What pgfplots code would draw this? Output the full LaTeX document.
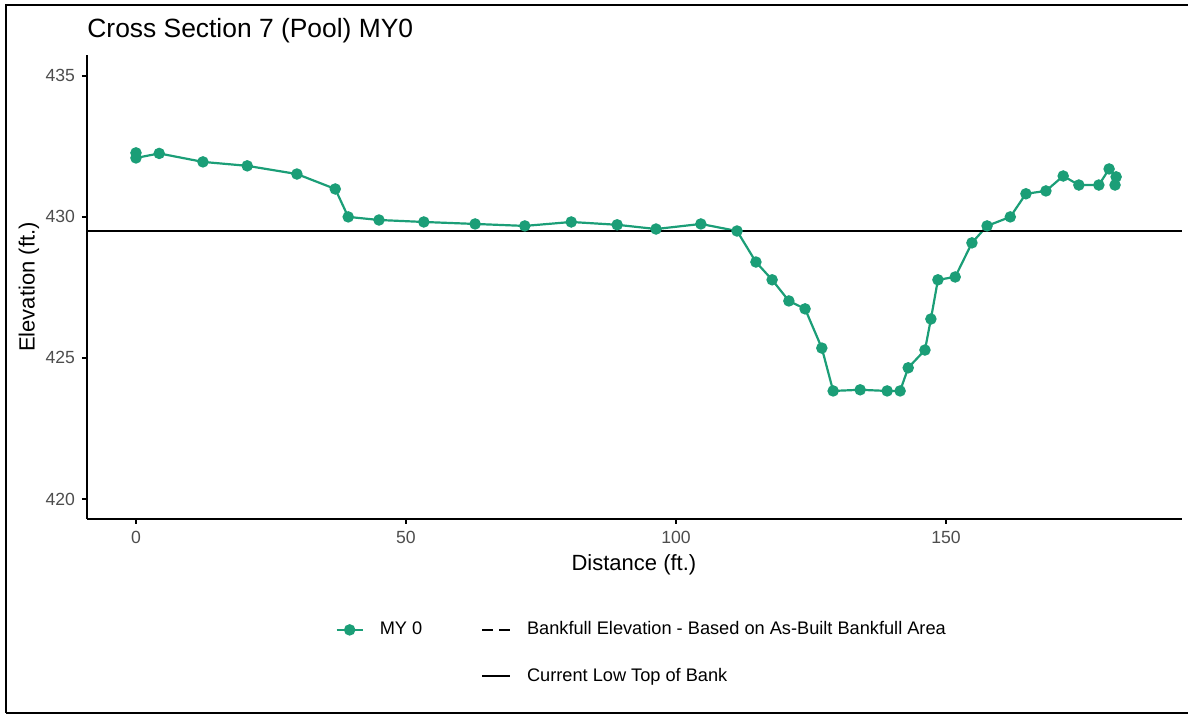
\documentclass[border=0pt]{standalone}
\usepackage{pgfplots}
\pgfplotsset{compat=1.18}
\usepackage{fontspec}
\setmainfont{Liberation Sans}
\definecolor{myg}{HTML}{1B9E77}
\definecolor{tickgrey}{HTML}{4D4D4D}
\pgfplotsset{
  legA/.style={legend image code/.code={\draw[mark repeat=2,mark phase=2,##1] plot coordinates {(0pt,0pt)(6.5pt,0pt)(13pt,0pt)};}},
  legB/.style={legend image code/.code={\draw[##1] (0pt,0pt) -- (14pt,0pt);}},
}
\begin{document}
\begin{tikzpicture}
\useasboundingbox (0,0) rectangle (594pt,357.5pt);
\draw[line width=1.3pt] (3pt,1pt) -- (3pt,355pt) -- (594pt,355pt);
\draw[line width=1.3pt] (3pt,1pt) -- (594pt,1pt);
\begin{axis}[
  at={(43.5pt,98pt)}, anchor=south west,
  scale only axis, width=547.5pt, height=232pt,
  xmin=-9.07, xmax=193.7, ymin=419.29, ymax=435.74,
  axis lines=left, axis line style={line width=0.9pt, -},
  xtick={0,50,100,150}, ytick={420,425,430,435},
  tick align=outside, major tick length=2.5pt,
  tick style={line width=0.9pt, black},
  /pgf/number format/assume math mode=true,
  ticklabel style={font=\fontsize{8.8}{10}\selectfont, text=tickgrey},
  title={Cross Section 7 (Pool) MY0},
  title style={at={(0,1)}, anchor=base west, yshift=2.5pt, inner sep=0pt, font=\fontsize{13.2}{15}\selectfont},
  xlabel={Distance (ft.)},
  xlabel style={at={(axis description cs:0.4995,-0.0992)}, anchor=center, font=\fontsize{11}{13}\selectfont},
  ylabel={Elevation (ft.)},
  ylabel style={at={(axis description cs:-0.053,0.5)}, anchor=center, font=\fontsize{11}{13}\selectfont},
  legend columns=2,
  legend style={draw=none, fill=none, at={(axis description cs:0.5075,-0.2888)}, anchor=center,
    font=\fontsize{9.1}{10}\selectfont, row sep=11pt,
    /tikz/every odd column/.append style={column sep=6pt},
    /tikz/every even column/.append style={column sep=27.5pt}},
  legend cell align=left,
]
\addplot[myg, line width=1.1pt, mark=*, mark size=2.3pt, forget plot] coordinates {
(0,432.27) (0,432.09) (4.3,432.25) (12.4,431.95) (20.6,431.81) (29.8,431.52)
(36.9,430.99) (39.3,430.00) (45.0,429.89) (53.3,429.82) (62.8,429.75) (72.0,429.68)
(80.6,429.82) (89.1,429.72) (96.3,429.57) (104.6,429.75) (111.3,429.50) (114.8,428.40)
(117.8,427.77) (120.9,427.02) (123.9,426.74) (127.0,425.35) (129.1,423.83) (134.1,423.87)
(139.1,423.83) (141.5,423.83) (143.0,424.65) (146.1,425.28) (147.2,426.38) (148.5,427.77)
(151.7,427.87) (154.8,429.08) (157.6,429.68) (161.9,430.00) (164.8,430.82) (168.5,430.92)
(171.7,431.45) (174.6,431.13) (178.3,431.13) (180.2,431.70) (181.5,431.42) (181.3,431.13)
};
\addplot[black, line width=0.9pt, forget plot] coordinates {(-9.07,429.5) (193.7,429.5)};
\addlegendimage{myg, line width=1.1pt, mark=*, mark size=2.3pt, legA}
\addlegendentry{MY 0}
\addlegendimage{black, line width=0.9pt, dash pattern=on 5.5pt off 3pt, legB}
\addlegendentry{Bankfull Elevation - Based on As-Built Bankfull Area}
\addlegendimage{empty legend}
\addlegendentry{}
\addlegendimage{black, line width=0.9pt, legB}
\addlegendentry{Current Low Top of Bank}
\end{axis}
\end{tikzpicture}
\end{document}
